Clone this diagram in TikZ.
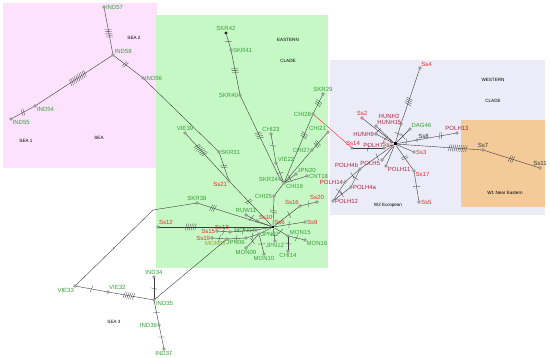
\documentclass[tikz,border=0pt]{standalone}
\usepackage{fontspec}
\setmainfont{Liberation Sans}
\usetikzlibrary{calc,decorations.markings}

\definecolor{seapink}{RGB}{252,226,252}
\definecolor{eastgreen}{RGB}{198,248,198}
\definecolor{westlav}{RGB}{236,236,248}
\definecolor{neorange}{RGB}{244,202,152}
\definecolor{egreen}{RGB}{56,158,56}
\definecolor{sred}{RGB}{232,44,44}
\definecolor{pred}{RGB}{176,36,64}
\definecolor{olive}{RGB}{160,160,30}
\definecolor{edgegray}{RGB}{60,60,60}

\newcommand{\lab}{\fontsize{6}{7}\selectfont}
\newcommand{\reg}{\fontsize{4.6}{5.5}\selectfont}

\tikzset{
  hap/.style={circle, draw=edgegray, fill=white, line width=.3pt, minimum size=2.6pt, inner sep=0pt},
  hubn/.style={rectangle, fill=black, minimum size=3pt, inner sep=0pt},
  gl/.style={text=egreen, font=\lab, inner sep=.4pt},
  rl/.style={text=sred, font=\lab, inner sep=.4pt},
  pl/.style={text=pred, font=\lab, inner sep=.4pt},
  ol/.style={text=olive, font=\lab, inner sep=.4pt},
  kl/.style={text=black!80, font=\lab, inner sep=.4pt},
  regtxt/.style={font=\reg, text=black, inner sep=0pt},
  edge/.style={draw=edgegray, line width=.4pt},
  mut/.style 2 args={postaction={decorate, decoration={markings,
    mark=at position #1 with {\foreach \k in {1,...,#2}{
      \draw[edgegray, line width=.3pt] ({(\k-(#2+1)/2)*1.9pt-.7pt},-3.4pt) -- ++(1.4pt,6.8pt);}}}}}
}

\begin{document}
\begin{tikzpicture}[x=1pt,y=-1pt]

\useasboundingbox (0,0) rectangle (550,358);

% Background regions
\fill[seapink] (3,3) rectangle (157,168);
\fill[eastgreen] (156,15) rectangle (328,268);
\fill[westlav] (330,60) rectangle (545,215);
\fill[neorange] (461,120) rectangle (545,207);

% Region names
\node[regtxt] (tSEA2) at (134,38) {SEA 2};
\node[regtxt] (tSEA) at (99,138) {SEA};
\node[regtxt] (tSEA1) at (26,141) {SEA 1};
\node[regtxt] (tSEA3) at (114,322) {SEA 3};
\node[regtxt] (tEAST) at (288,40) {EASTERN};
\node[regtxt] (tECLADE) at (288,61) {CLADE};
\node[regtxt] (tWEST) at (493,80) {WESTERN};
\node[regtxt] (tWCLADE) at (493,101) {CLADE};
\node[regtxt] (tW2) at (388,205) {W2 European};
\node[regtxt] (tW1) at (505,193) {W1 Near Eastern};

% SEA haplotypes
\node[hap, label={[gl]right:IND57}] (IND57) at (104,7) {};
\node[hap, label={[gl]40:IND58}] (IND58) at (113,55) {};
\node[hap, label={[gl]right:IND56}] (IND56) at (143,78) {};
\node[hap, label={[gl]-15:IND54}] (IND54) at (35,106) {};
\node[hap, label={[gl]-40:IND55}] (IND55) at (11,119) {};

% SEA 3 haplotypes
\node[hap, label={[gl]-110:VIE33}] (VIE33) at (75,286) {};
\node[hap, label={[gl]70:VIE32}] (VIE32) at (108,292) {};
\node[hap, label={[gl]-15:IND35}] (IND35) at (154,300) {};
\node[hap, label={[gl]above:IND34}] (IND34) at (154,277) {};
\node[hap, label={[gl]left:IND36}] (IND36) at (159,325) {};
\node[hap, label={[gl]below:IND37}] (IND37) at (164,349) {};
\coordinate (bnd) at (153,210);

% Eastern clade
\node[hubn, minimum size=2.6pt, label={[rl]60:Ss6}] (Ss6) at (273,227) {};
\node[hap, fill=black, label={[gl]above:SKR42}] (SKR42) at (226,33) {};
\node[hap, label={[gl]right:SKR41}] (SKR41) at (231,50) {};
\node[hap, label={[gl]left:SKR40}] (SKR40) at (240,95) {};
\node[hap, label={[gl]right:SKR31}] (SKR31) at (219,152) {};
\node[hap, label={[gl]above:VIE39}] (VIE39) at (185,133) {};
\node[hap, label={[rl]-160:Ss21}] (Ss21) at (229,181) {};
\node[hap, label={[gl]above:SKR38}] (SKR38) at (197,203) {};
\node[hap, label={[rl]70:Ss12}] (Ss12) at (158,227) {};
\node[hap, label={[gl]above:RUW11}] (RUW11) at (246,215) {};
\node[hap, label={[rl]30:Ss10}] (Ss10) at (257,221) {};
\node[hap, label={[rl]right:Ss9}] (Ss9) at (305,222) {};
\node[hap, label={[rl]120:Ss16}] (Ss16) at (300,206) {};
\node[hap, label={[rl]above:Ss20}] (Ss20) at (317,202) {};
\node[hap, label={[gl]20:MON15}] (MON15) at (288,236) {};
\node[hap, label={[gl]-40:MON16}] (MON16) at (305,240) {};
\node[hap, label={[gl]below:CHI14}] (CHI14) at (288,251) {};
\node[hap, label={[gl]below:JPN12}] (JPN12) at (275,241) {};
\node[hap, label={[gl]right:JPN07}] (JPN07) at (259,234) {};
\node[hap, label={[gl]below:MON10}] (MON10) at (264,254) {};
\node[hap, label={[gl]below:MON09}] (MON09) at (246,248) {};
\node[hap, label={[gl]-120:JPN06}] (JPN06) at (246,238) {};
\node[hap, label={[gl, xshift=1pt]left:MON04}] (MON04) at (256,230) {};
\node[hap, label={[rl]110:Ss18}] (Ss18) at (230,232) {};
\node[hap, label={[rl]left:Ss15}] (Ss15) at (217,231) {};
\node[hap, label={[rl]left:Ss19}] (Ss19) at (212,238) {};
\node[hap, label={[ol]-120:MON05}] (MON05) at (227,239) {};
\node[hap, label={[gl]left:SKR24}] (SKR24) at (280,179) {};
\node[hap, label={[gl]-10:CHI19}] (CHI19) at (284,183) {};
\node[hap, label={[gl]above:CHI23}] (CHI23) at (271,134) {};
\node[hap, label={[gl]30:VIE22}] (VIE22) at (276,163) {};
\node[hap, label={[gl]left:CHI28}] (CHI28) at (313,114) {};
\node[hap, label={[gl]above:SKR29}] (SKR29) at (323,94) {};
\node[hap, label={[gl]150:CHI21}] (CHI21) at (328,132) {};
\node[hap, label={[gl]left:CHI27}] (CHI27) at (312,150) {};
\node[hap, label={[gl]40:JPN20}] (JPN20) at (296,174) {};
\node[hap, label={[gl]right:CNT18}] (CNT18) at (307,176) {};
\node[hap, label={[gl]left:CHI25}] (CHI25) at (274,196) {};

% Western clade
\node[hubn, label={[rl]left:Ss1}] (Ss1) at (395,144) {};
\node[hap, label={[rl]60:Ss4}] (Ss4) at (420,68) {};
\node[hap, label={[pl, yshift=4pt]135:HUNH2}] (HUNH2) at (401,124) {};
\node[hap, label={[rl]above:Ss2}] (Ss2) at (362,118) {};
\node[hap, label={[pl]60:HUNH15}] (HUNH15) at (376,126) {};
\node[hap, label={[pl]left:HUNH9}] (HUNH9) at (376,134) {};
\node[hap, label={[gl]50:DAG46}] (DAG46) at (410,129) {};
\node[hap, label={[kl]60:Ss8}] (Ss8) at (417,140) {};
\node[hap, label={[pl]above:POLH13}] (POLH13) at (457,133) {};
\node[hap, label={[kl]above:Ss7}] (Ss7) at (483,150) {};
\node[hap, label={[kl]above:Ss11}] (Ss11) at (540,168) {};
\node[hap, label={[rl]right:Ss3}] (Ss3) at (414,152) {};
\node[hap, label={[rl]-40:Ss17}] (Ss17) at (414,171) {};
\node[hap, label={[rl]right:Ss5}] (Ss5) at (419,202) {};
\node[hap, label={[pl]-30:POLH11}] (POLH11) at (386,166) {};
\node[hap, label={[pl]-150:POLH5}] (POLH5) at (382,160) {};
\node[hap, label={[pl, yshift=-1pt, xshift=1pt]150:POLH7}] (POLH7) at (384,148) {};
\node[hap, label={[rl, xshift=1pt]above:Ss14}] (Ss14) at (352,148) {};
\node[hap, label={[pl]150:POLH4b}] (POLH4b) at (360,169) {};
\node[hap, label={[pl]left:POLH14}] (POLH14) at (345,182) {};
\node[hap, label={[pl]right:POLH4a}] (POLH4a) at (351,187) {};
\node[hap, label={[pl]right:POLH12}] (POLH12) at (333,201) {};

% Plain links
\foreach \a/\b in {IND56/SKR31, SKR38/bnd, bnd/VIE33, Ss10/Ss6, MON04/Ss6,
  JPN07/Ss6, IND35/MON05, CHI25/CHI19, SKR24/CHI19, CHI19/CNT18,
  CHI27/CHI19, Ss1/HUNH15, Ss1/Ss3, Ss1/POLH11, Ss1/POLH5, Ss1/POLH7}
  \draw[edge] (\a) -- (\b);

% Links with mutation ticks
\foreach \a/\b/\p/\n in {IND57/IND58/.55/5, IND58/IND54/.45/10, IND54/IND55/.5/2,
  IND58/IND56/.4/2, SKR31/Ss21/.5/2, VIE39/Ss21/.35/7, Ss21/Ss6/.45/2,
  SKR38/Ss6/.2/3, Ss12/Ss6/.28/6, RUW11/Ss10/.5/1, Ss6/Ss9/.5/1,
  Ss6/Ss16/.6/1, Ss16/Ss20/.5/1, Ss6/MON15/.5/1, MON15/MON16/.5/1,
  MON15/CHI14/.5/1, Ss6/JPN12/.6/1, JPN07/MON10/.5/1, JPN07/MON09/.5/1,
  JPN06/JPN07/.5/1, MON05/JPN06/.5/1, Ss19/MON05/.5/1, Ss15/Ss18/.5/1,
  Ss18/MON04/.5/1, Ss6/CHI25/.5/2, SKR40/SKR24/.48/4, SKR41/SKR40/.45/3,
  SKR42/SKR41/.5/1, CHI23/VIE22/.4/1, VIE22/CHI19/.5/1, CHI28/CHI19/.3/3,
  SKR29/CHI28/.45/3, CHI21/CHI27/.7/3, CHI19/JPN20/.5/1,
  Ss1/HUNH2/.5/1, HUNH2/Ss4/.4/4, Ss1/Ss2/.5/1, Ss1/HUNH9/.5/1,
  Ss1/DAG46/.5/1, Ss1/Ss8/.5/1, Ss8/POLH13/.6/2, Ss1/Ss7/.72/10,
  Ss7/Ss11/.5/3, Ss1/Ss17/.5/2, Ss17/Ss5/.5/1, POLH7/Ss14/.5/1,
  Ss1/POLH4b/.5/1, POLH4b/POLH14/.5/1, POLH14/POLH12/.5/1,
  POLH4b/POLH4a/.5/1, POLH4a/POLH12/.5/1,
  VIE33/VIE32/.5/1, VIE32/IND35/.45/6, IND34/IND35/.5/1,
  IND35/IND36/.5/1, IND36/IND37/.5/1}
  \draw[edge, mut={\p}{\n}] (\a) -- (\b);

% Link across the clades
\draw[sred, line width=.4pt] (CHI28) -- (Ss14);

\end{tikzpicture}
\end{document}
